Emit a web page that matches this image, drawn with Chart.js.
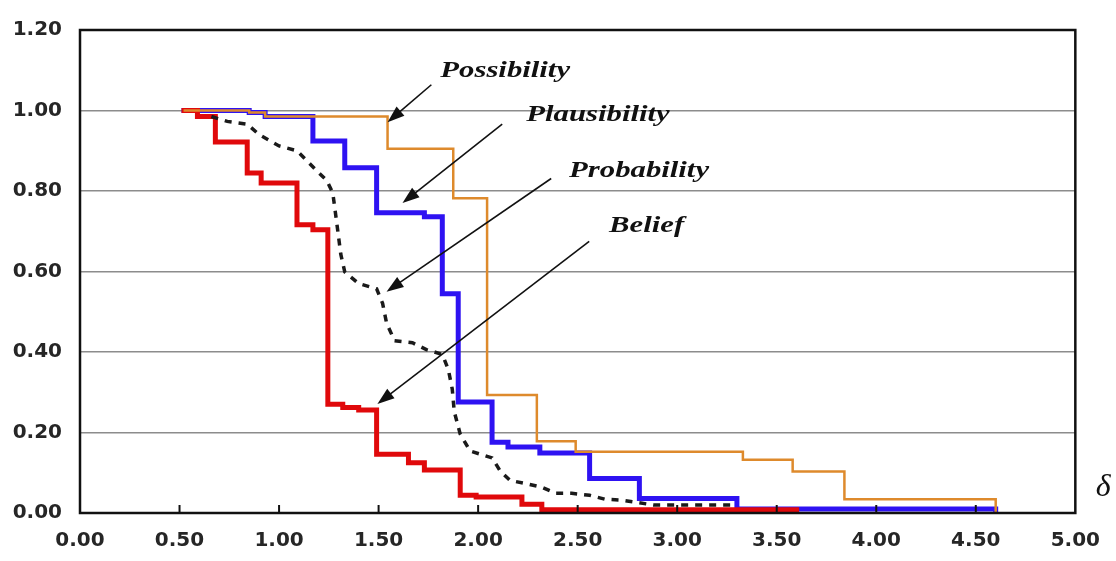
<!DOCTYPE html>
<html>
<head>
<meta charset="utf-8">
<script src="https://cdn.jsdelivr.net/npm/chart.js@4.4.1/dist/chart.umd.min.js"></script>
<style>
  html, body { margin: 0; padding: 0; background: #fff; }
  #wrap { width: 1116px; height: 561px; position: relative; }
</style>
</head>
<body>
<div id="wrap"><canvas id="chart"></canvas></div>
<script>
// Step curves: each value holds from its x until the next x
const possX = [0.52, 0.85, 0.93, 1.545, 1.875, 2.045, 2.295, 2.49, 3.33, 3.58, 3.84, 4.60];
const possY = [1.00, 0.995, 0.985, 0.905, 0.782, 0.293, 0.178, 0.152, 0.132, 0.103, 0.034, 0.0];

const plauX = [0.51, 0.85, 0.93, 1.17, 1.33, 1.49, 1.73, 1.82, 1.90, 2.07, 2.15, 2.31, 2.56, 2.81, 3.30, 4.60];
const plauY = [1.00, 0.995, 0.985, 0.924, 0.858, 0.746, 0.736, 0.545, 0.276, 0.176, 0.164, 0.149, 0.086, 0.036, 0.01, 0.0];

const belX = [0.51, 0.59, 0.68, 0.84, 0.91, 1.09, 1.17, 1.245, 1.32, 1.40, 1.49, 1.65, 1.73, 1.91, 1.99, 2.22, 2.32, 3.60];
const belY = [1.00, 0.985, 0.922, 0.845, 0.82, 0.716, 0.704, 0.27, 0.262, 0.256, 0.146, 0.125, 0.107, 0.044, 0.04, 0.022, 0.008, 0.0];

// Probability curve (dashed, not stepped)
const probX = [0.66, 0.74, 0.84, 0.90, 1.00, 1.09, 1.14, 1.19, 1.24, 1.27, 1.29, 1.31, 1.33, 1.40, 1.49, 1.52, 1.54, 1.58, 1.67, 1.74, 1.82, 1.85, 1.87, 1.88, 1.91, 1.96, 2.07, 2.11, 2.16, 2.24, 2.32, 2.39, 2.47, 2.56, 2.64, 2.72, 2.88, 3.04, 3.21, 3.30];
const probY = [0.985, 0.973, 0.966, 0.94, 0.912, 0.90, 0.875, 0.85, 0.826, 0.795, 0.72, 0.643, 0.599, 0.57, 0.557, 0.521, 0.472, 0.428, 0.423, 0.406, 0.394, 0.357, 0.308, 0.252, 0.196, 0.154, 0.137, 0.105, 0.081, 0.073, 0.064, 0.049, 0.049, 0.044, 0.034, 0.032, 0.02, 0.02, 0.02, 0.02];

const xTicks = [0, 0.5, 1, 1.5, 2, 2.5, 3, 3.5, 4, 4.5, 5];
const yTicks = [0, 0.2, 0.4, 0.6, 0.8, 1.0, 1.2];

const labelNames = ['Possibility', 'Plausibility', 'Probability', 'Belief'];

// label placement in data units: text left/baseline, arrow tail and tip
const callouts = [
    { text: labelNames[0], tx: 1.81, ty: 1.083, ax: 1.765, ay: 1.064, bx: 1.545, by: 0.971 },
    { text: labelNames[1], tx: 2.242, ty: 0.973, ax: 2.121, ay: 0.966, bx: 1.620, by: 0.770 },
    { text: labelNames[2], tx: 2.457, ty: 0.834, ax: 2.367, ay: 0.831, bx: 1.540, by: 0.550 },
    { text: labelNames[3], tx: 2.658, ty: 0.699, ax: 2.558, ay: 0.675, bx: 1.494, by: 0.271 },
];

const pts = (xs, ys) => xs.map((x, i) => ({ x: x, y: ys[i] }));

function arrow(ctx, x1, y1, x2, y2) {
    const ang = Math.atan2(y2 - y1, x2 - x1);
    const len = 17, half = 6;
    ctx.beginPath();
    ctx.moveTo(x1, y1);
    ctx.lineTo(x2 - Math.cos(ang) * len * 0.8, y2 - Math.sin(ang) * len * 0.8);
    ctx.stroke();
    ctx.beginPath();
    ctx.moveTo(x2, y2);
    ctx.lineTo(x2 - Math.cos(ang) * len + Math.sin(ang) * half, y2 - Math.sin(ang) * len - Math.cos(ang) * half);
    ctx.lineTo(x2 - Math.cos(ang) * len - Math.sin(ang) * half, y2 - Math.sin(ang) * len + Math.cos(ang) * half);
    ctx.closePath();
    ctx.fill();
}

const decorPlugin = {
    id: 'decor',
    afterDatasetsDraw(chart) {
        const ctx = chart.ctx;
        const area = chart.chartArea;
        const xs = chart.scales.x, ys = chart.scales.y;
        ctx.save();

        // inner tick marks on x axis
        ctx.strokeStyle = '#111';
        ctx.lineWidth = 2;
        xTicks.slice(1, -1).forEach(v => {
            const px = xs.getPixelForValue(v);
            ctx.beginPath();
            ctx.moveTo(px, area.bottom);
            ctx.lineTo(px, area.bottom - 8);
            ctx.stroke();
        });

        // frame
        ctx.lineWidth = 2.5;
        ctx.strokeRect(area.left, area.top, area.right - area.left, area.bottom - area.top);

        // callouts
        ctx.fillStyle = '#111';
        ctx.strokeStyle = '#111';
        ctx.lineWidth = 1.6;
        callouts.forEach(c => {
            arrow(ctx, xs.getPixelForValue(c.ax), ys.getPixelForValue(c.ay),
                xs.getPixelForValue(c.bx), ys.getPixelForValue(c.by));
            ctx.save();
            ctx.translate(xs.getPixelForValue(c.tx), ys.getPixelForValue(c.ty));
            ctx.scale(1.28, 1);
            ctx.font = 'bold italic 24px "Liberation Serif"';
            ctx.textBaseline = 'alphabetic';
            ctx.fillText(c.text, 0, 0);
            ctx.restore();
        });

        // delta symbol
        ctx.font = 'italic 32px "Liberation Serif"';
        ctx.textAlign = 'center';
        ctx.textBaseline = 'middle';
        ctx.fillText('δ', xs.getPixelForValue(5.14), ys.getPixelForValue(0.064));
        ctx.restore();
    }
};

const tickFont = { family: '"DejaVu Sans"', size: 20, weight: 'bold' };

new Chart(document.getElementById('chart'), {
    type: 'line',
    data: {
        datasets: [
            {
                label: 'Possibility',
                data: pts(possX, possY),
                stepped: 'before',
                borderColor: '#DE8A2C',
                borderWidth: 2.5,
                pointRadius: 0,
                clip: 8,
            },
            {
                label: 'Probability',
                data: pts(probX, probY),
                borderColor: '#1a1a1a',
                borderWidth: 3.5,
                borderDash: [7, 7],
                pointRadius: 0,
                tension: 0,
                clip: 8,
            },
            {
                label: 'Belief',
                data: pts(belX, belY),
                stepped: 'before',
                borderColor: '#E0090B',
                borderWidth: 5,
                pointRadius: 0,
                clip: 8,
            },
            {
                label: 'Plausibility',
                data: pts(plauX, plauY),
                stepped: 'before',
                borderColor: '#2E12F2',
                borderWidth: 5,
                pointRadius: 0,
                clip: 8,
            },
        ]
    },
    options: {
        responsive: true,
        maintainAspectRatio: false,
        animation: false,
        layout: { padding: { left: 0, right: 39, top: 22, bottom: 0 } },
        scales: {
            x: {
                type: 'linear',
                min: 0,
                max: 5,
                afterBuildTicks: (s) => { s.ticks = xTicks.map(v => ({ value: v })); },
                afterFit: (s) => { s.height = 48; },
                grid: { display: false, drawTicks: false },
                border: { display: false },
                ticks: {
                    padding: 16,
                    color: '#262626',
                    font: tickFont,
                    maxRotation: 0,
                    callback: (v) => Number(v).toFixed(2),
                }
            },
            y: {
                min: 0,
                max: 1.2,
                afterBuildTicks: (s) => { s.ticks = yTicks.map(v => ({ value: v })); },
                afterFit: (s) => { s.width = 80; },
                grid: { color: '#8c8c8c', lineWidth: 1.5, drawTicks: false },
                border: { display: false },
                ticks: {
                    padding: 18,
                    color: '#262626',
                    font: tickFont,
                    callback: (v) => Number(v).toFixed(2),
                }
            }
        },
        plugins: {
            legend: { display: false },
            tooltip: { enabled: false },
        }
    },
    plugins: [decorPlugin]
});
</script>
</body>
</html>
